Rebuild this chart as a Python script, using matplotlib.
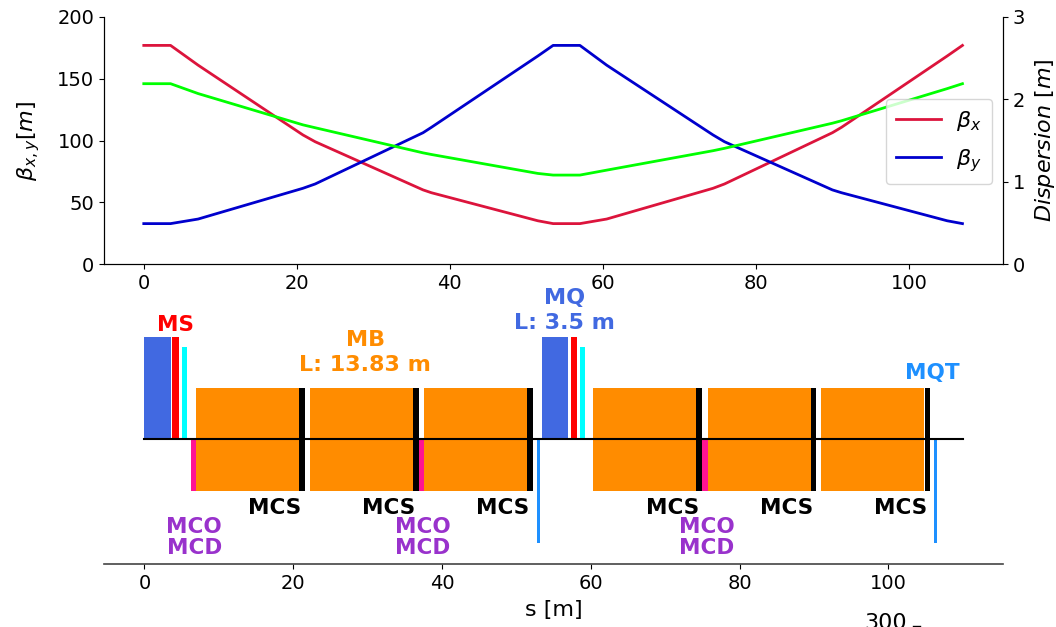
import numpy as np
import matplotlib

matplotlib.use("Agg")
from matplotlib import pyplot as plt
from matplotlib.lines import Line2D

W, H = 1056, 627

# optics
s_x = [0, 3.5, 7.1, 20.8, 22.4, 36.5, 37.6, 51.5, 53.5, 57, 60.5, 74.4, 75.9, 90, 91.2, 105, 107]
beta_x = [177, 177, 161, 104.5, 99, 60, 57.7, 35, 32.7, 32.7, 36.4, 61.3, 64.8, 106.3, 110.7, 168.4, 177]
beta_y = [32.7, 32.7, 36.4, 61.3, 64.8, 106.3, 110.7, 168.4, 177, 177, 161, 104.5, 99, 60, 57.7, 35, 32.7]
disp = [2.19, 2.19, 2.07, 1.69, 1.655, 1.35, 1.33, 1.10, 1.08, 1.08, 1.14, 1.376, 1.405, 1.71, 1.74, 2.13, 2.19]

# lattice elements
mb_start = [6.93, 22.25, 37.6, 60.35, 75.7, 91.0]
mb_len = 13.83
mq_start = [0, 53.45]
mq_len = 3.5
ms_start = [3.75, 57.27]
ms_len = 0.85
cyan_start = [5.05, 58.55]
cyan_len = 0.6
mcs_start = [20.8, 36.1, 51.45, 74.2, 89.55, 104.9]
mcs_len = 0.75
mco_start = [6.2, 36.85, 75.0]
mco_len = 0.75
mqt_start = [52.72, 106.1]
mqt_len = 0.42

mcs_label_x = [17.5, 32.8, 48.1, 71, 86.3, 101.6]
mco_label_x = [6.7, 37.4, 75.6]

s_ticks = [0, 20, 40, 60, 80, 100]


def box(x0, y0, x1, y1):
    return [x0 / W, 1 - y1 / H, (x1 - x0) / W, (y1 - y0) / H]


plt.rcParams["font.size"] = 14
plt.rcParams["axes.labelsize"] = 16
fig = plt.figure(figsize=(W / 100, H / 100), dpi=100)

ax = fig.add_axes(box(104, 17, 1003, 264))
ax.plot(s_x, beta_x, color="crimson", lw=2, label=r"$\beta_x$")
ax.plot(s_x, beta_y, color="mediumblue", lw=2, label=r"$\beta_y$")
ax.set_xlim(-5.2, 112.3)
ax.set_ylim(0, 200)
ax.set_xticks(s_ticks)
ax.set_ylabel(r"$\beta_{x,y}[m]$", labelpad=11)
ax.spines["top"].set_visible(False)

ax_d = ax.twinx()
ax_d.plot(s_x, disp, color="lime", lw=2)
ax_d.set_ylim(0, 3)
ax_d.set_yticks([0, 1, 2, 3])
ax_d.set_ylabel(r"$Dispersion\ [m]$", labelpad=5.5)
ax_d.spines["top"].set_visible(False)
h, l = ax.get_legend_handles_labels()
ax_d.legend(h, l, loc="upper left", bbox_to_anchor=(0.8695, 0.67), borderaxespad=0,
            fontsize=16, handlelength=2.0, labelspacing=0.62, borderpad=0.47,
            handletextpad=0.7)

ax2 = fig.add_axes(box(104, 286, 1003, 564))
ax2.set_xlim(-5.44, 115.4)
ax2.set_ylim(-1.225, 1.5)
ax2.bar(mb_start, 1.01, mb_len, -0.505, align="edge", color="darkorange")
ax2.bar(mq_start, 1.0, mq_len, 0, align="edge", color="royalblue")
ax2.bar(ms_start, 1.0, ms_len, 0, align="edge", color="red")
ax2.bar(cyan_start, 0.9, cyan_len, 0, align="edge", color="cyan")
ax2.bar(mcs_start, 1.01, mcs_len, -0.505, align="edge", color="black")
ax2.bar(mco_start, -0.505, mco_len, 0, align="edge", color="deeppink")
ax2.bar(mqt_start, -1.02, mqt_len, 0, align="edge", color="dodgerblue")
ax2.plot([0, 110], [0, 0], color="black", lw=1.5, zorder=5)

bold = dict(fontweight="bold", fontsize=15.5, ha="center", va="center", linespacing=1.05)
two_line = dict(bold, fontsize=16, linespacing=1.28)
ax2.text(4.2, 1.12, "MS", color="red", **bold)
ax2.text(29.7, 0.85, "MB\nL: 13.83 m", color="darkorange", **two_line)
ax2.text(56.4, 1.26, "MQ\nL: 3.5 m", color="royalblue", **two_line)
ax2.text(105.9, 0.645, "MQT", color="dodgerblue", **bold)
for x in mcs_label_x:
    ax2.text(x, -0.68, "MCS", color="black", **bold)
for x in mco_label_x:
    ax2.text(x, -0.865, "MCO", color="darkorchid", **bold)
    ax2.text(x, -1.07, "MCD", color="darkorchid", **bold)

ax2.set_xticks(s_ticks)
ax2.set_yticks([])
ax2.set_xlabel("s [m]", labelpad=5)
for side in ["top", "left", "right"]:
    ax2.spines[side].set_visible(False)
ax2.spines["bottom"].set_color("#444444")
ax2.spines["bottom"].set_linewidth(1.2)
ax2.patch.set_alpha(0)

# tick label of the next panel, cut off by the bottom edge
fig.text(864 / W, 1 - 623 / H, "300", fontsize=16, va="center", ha="left")
fig.add_artist(Line2D([913 / W, 920 / W], [1 - 626 / H, 1 - 626 / H], color="black", lw=1))

fig.savefig("out.png", dpi=100)
